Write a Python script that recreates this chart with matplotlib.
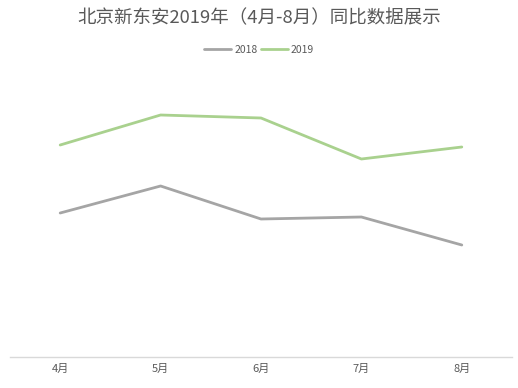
import matplotlib
matplotlib.use("Agg")
import matplotlib.pyplot as plt

plt.rcParams['font.family'] = ['Noto Sans CJK SC', 'DejaVu Sans']

categories = ['4月', '5月', '6月', '7月', '8月']
series_2018 = [144, 171, 138, 140, 112]
series_2019 = [212, 242, 239, 198, 210]
title = '北京新东安2019年（4月-8月）同比数据展示'

fig = plt.figure(figsize=(5.18, 3.88), dpi=100)
ax = fig.add_axes([10/518, 1-357/388, 502/518, 287/388])
x = list(range(len(categories)))
l1, = ax.plot(x, series_2018, color='#A5A5A5', lw=2.0, solid_capstyle='round', label='2018')
l2, = ax.plot(x, series_2019, color='#A9D18E', lw=2.0, solid_capstyle='round', label='2019')
ax.set_xlim(-0.5, len(categories) - 0.5)
ax.set_ylim(0, 287)
ax.set_xticks(x)
ax.set_xticklabels(categories, fontsize=8, color='#595959')
ax.tick_params(axis='x', length=0, pad=5)
ax.set_yticks([])
for s in ['top', 'right', 'left']:
    ax.spines[s].set_visible(False)
ax.spines['bottom'].set_color('#D9D9D9')
ax.spines['bottom'].set_linewidth(1)

fig.text(0.5, 1-18/388, title, ha='center', va='center', fontsize=13.3, color='#595959')
fig.legend(handles=[l1, l2], loc='center', bbox_to_anchor=(0.5, 1-50/388), ncol=2,
           frameon=False, fontsize=7.5, labelcolor='#595959', handlelength=2.6,
           handletextpad=0.3, columnspacing=0.3)

fig.savefig('out.png', dpi=100)
